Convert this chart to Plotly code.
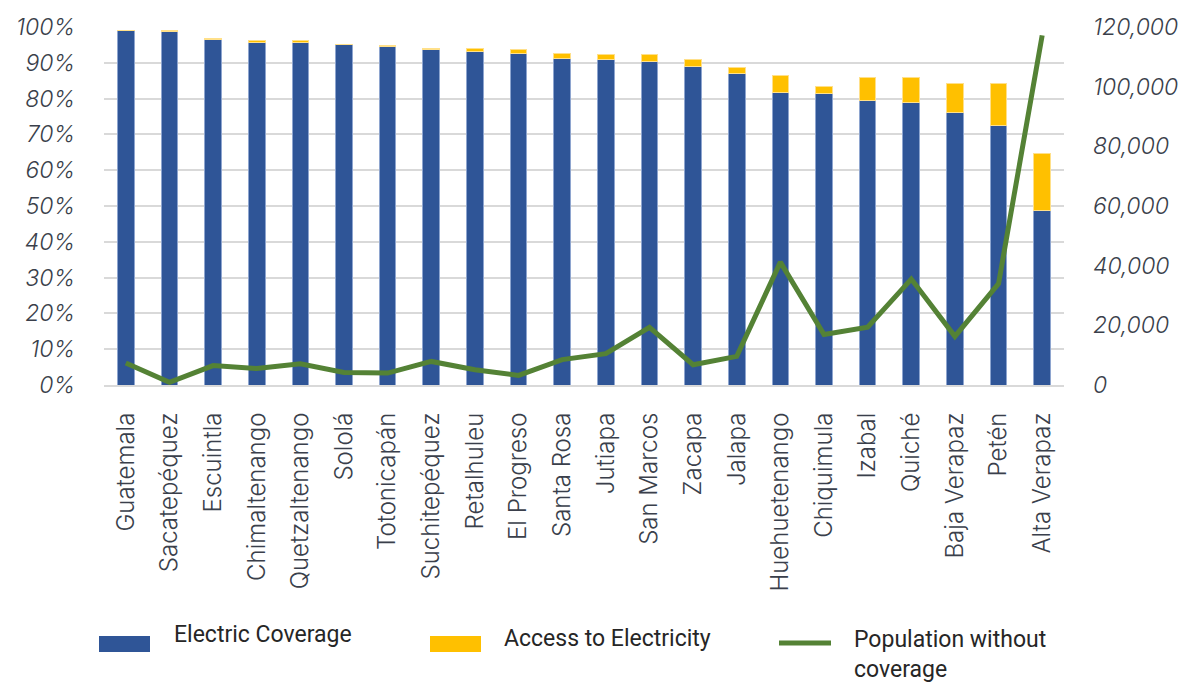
import plotly.graph_objects as go

departments = [
    "Guatemala", "Sacatepéquez", "Escuintla", "Chimaltenango", "Quetzaltenango",
    "Sololá", "Totonicapán", "Suchitepéquez", "Retalhuleu", "El Progreso",
    "Santa Rosa", "Jutiapa", "San Marcos", "Zacapa", "Jalapa", "Huehuetenango",
    "Chiquimula", "Izabal", "Quiché", "Baja Verapaz", "Petén", "Alta Verapaz",
]

# Share of households with electric coverage (fraction)
electric_coverage = [
    0.989, 0.987, 0.964, 0.958, 0.957, 0.950, 0.945, 0.936, 0.931, 0.925,
    0.911, 0.909, 0.904, 0.889, 0.870, 0.816, 0.813, 0.795, 0.790, 0.762,
    0.726, 0.488,
]

# Total access to electricity (fraction); the stacked segment is the difference
access_total = [
    0.991, 0.990, 0.968, 0.963, 0.961, 0.952, 0.949, 0.940, 0.941, 0.938,
    0.927, 0.924, 0.922, 0.910, 0.887, 0.865, 0.834, 0.860, 0.860, 0.842,
    0.843, 0.647,
]

# Population without coverage (people)
population_without = [
    7400, 900, 6500, 5500, 7100, 4200, 4000, 7900, 5100, 3200,
    8500, 10500, 19300, 6800, 9600, 41200, 16900, 19400, 35500, 16300,
    34000, 117200,
]

access_extra = [round(t - c, 4) for t, c in zip(access_total, electric_coverage)]

BLUE = "#2F5597"
YELLOW = "#FFC000"
GREEN = "#548235"
GRID = "#D9D9D9"
TEXT = "#3A3F4B"
TICK_FONT = "Inter, Lato, Open Sans, sans-serif"
LEGEND_FONT = "Roboto, Liberation Sans, sans-serif"

# Plot area in pixels (used to place the hand-built legend in paper units)
PL, PR, PT, PB = 104, 1064, 27, 385


def px(x):
    return (x - PL) / (PR - PL)


def py(y):
    return (PB - y) / (PB - PT)


fig = go.Figure()

fig.add_trace(go.Bar(
    x=departments, y=electric_coverage, name="Electric Coverage",
    marker=dict(color=BLUE, line=dict(color="#8EA5CF", width=1)),
    yaxis="y",
))
fig.add_trace(go.Bar(
    x=departments, y=access_extra, name="Access to Electricity",
    marker=dict(color=YELLOW, line=dict(color="#FFE08A", width=1)),
    yaxis="y",
))
fig.add_trace(go.Scatter(
    x=departments, y=population_without, name="Population without coverage",
    mode="lines", line=dict(color=GREEN, width=5),
    yaxis="y2",
))

fig.update_layout(
    width=1197, height=683,
    margin=dict(l=PL, r=1197 - PR, t=PT, b=683 - PB),
    paper_bgcolor="white", plot_bgcolor="white",
    barmode="stack", bargap=0.62,
    showlegend=False,
    xaxis=dict(
        tickangle=-90,
        tickfont=dict(family=TICK_FONT, size=24, color=TEXT, weight=300),
        showgrid=False, showline=True, linecolor=GRID, linewidth=2,
        ticks="", ticklabelstandoff=16,
    ),
    yaxis=dict(
        range=[0, 1], dtick=0.1, tickformat=".0%",
        tickfont=dict(family=TICK_FONT, size=23, color=TEXT, style="italic", weight=300),
        showgrid=True, gridcolor=GRID, gridwidth=2,
        zeroline=False, showline=False, ticks="", ticklabelstandoff=28,
    ),
    yaxis2=dict(
        range=[0, 120000], dtick=20000, tickformat=",",
        overlaying="y", side="right",
        tickfont=dict(family=TICK_FONT, size=23, color=TEXT, style="italic", weight=300),
        showgrid=False, zeroline=False, showline=False, ticks="", ticklabelstandoff=28,
    ),
)

# Legend row beneath the category labels
legend_items = [
    ("Electric Coverage", BLUE, "rect", 99, 172, 634),
    ("Access to Electricity", YELLOW, "rect", 430, 502, 638),
    ("Population without<br>coverage", GREEN, "line", 779, 852, 654),
]
for label, color, kind, x0, tx, ty in legend_items:
    if kind == "rect":
        fig.add_shape(type="rect", xref="paper", yref="paper",
                      x0=px(x0), x1=px(x0 + 51), y0=py(652), y1=py(636),
                      line=dict(width=0), fillcolor=color)
    else:
        fig.add_shape(type="line", xref="paper", yref="paper",
                      x0=px(x0), x1=px(x0 + 52), y0=py(643), y1=py(643),
                      line=dict(color=color, width=5))
    fig.add_annotation(
        xref="paper", yref="paper", x=px(tx), y=py(ty),
        xanchor="left", yanchor="middle", align="left",
        text=label, showarrow=False,
        font=dict(family=LEGEND_FONT, size=23, color="#262626"),
    )

fig.write_html("out.html")
